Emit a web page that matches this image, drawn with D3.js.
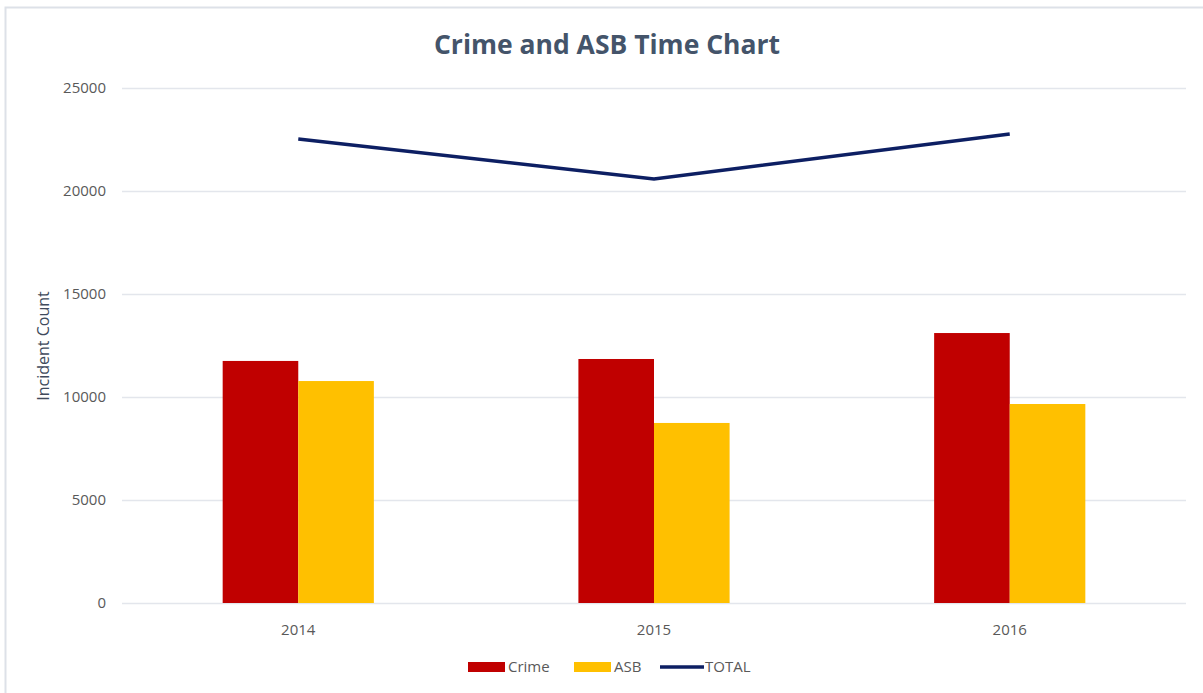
<!DOCTYPE html>
<html>
<head>
<meta charset="utf-8">
<script src="https://cdn.jsdelivr.net/npm/d3@7"></script>
<style>
  body { margin: 0; background: #fff; }
  text { font-family: "Open Sans", Lato, sans-serif; }
</style>
</head>
<body>
<div id="chart"></div>
<script>
var years = ["2014", "2015", "2016"]
var crime = [11750, 11845, 13105]
var asb = [10775, 8740, 9660]
var total = [22525, 20585, 22765]
var yTicks = [0, 5000, 10000, 15000, 20000, 25000]

var svg = d3.select("#chart")
.append("svg")
.attr("width", 1203)
.attr("height", 693)

// outer frame
svg.append("rect")
.attr("x", 5.5).attr("y", 7.5)
.attr("width", 1210).attr("height", 700)
.attr("fill", "none")
.attr("stroke", "#dde1e8")
.attr("stroke-width", 2)

var plotLeft = 122, plotRight = 1186, plotTop = 88, plotBottom = 603

var yScale = d3.scaleLinear()
.domain([0, 25000])
.range([plotBottom, plotTop])

var xScale = d3.scaleBand()
.domain(years)
.range([plotLeft, plotRight])
.paddingInner(0.575)
.paddingOuter(0.283)

// grid + y labels
var yAxis = d3.axisLeft(yScale)
.tickValues(yTicks)
.tickSize(-(plotRight - plotLeft))
.tickPadding(16)
.tickFormat(d3.format("d"))

var gy = svg.append("g").attr("transform", "translate(" + plotLeft + ",0)").call(yAxis)
gy.select(".domain").remove()
gy.selectAll("line").attr("stroke", "#e3e6ec").attr("stroke-width", 1.5)
gy.selectAll("text").attr("fill", "#595959").attr("font-size", 15)

// x labels
var xAxis = d3.axisBottom(xScale).tickSize(0).tickPadding(21)
var gx = svg.append("g").attr("transform", "translate(0," + plotBottom + ")").call(xAxis)
gx.select(".domain").remove()
gx.selectAll("text").attr("fill", "#595959").attr("font-size", 15)

var bw = xScale.bandwidth() / 2

svg.append("g").selectAll("rect")
.data(crime)
.enter().append("rect")
.attr("x", function(d, i) { return xScale(years[i]) })
.attr("y", function(d) { return yScale(d) })
.attr("width", bw)
.attr("height", function(d) { return plotBottom - yScale(d) })
.attr("fill", "#c00000")

svg.append("g").selectAll("rect")
.data(asb)
.enter().append("rect")
.attr("x", function(d, i) { return xScale(years[i]) + bw })
.attr("y", function(d) { return yScale(d) })
.attr("width", bw)
.attr("height", function(d) { return plotBottom - yScale(d) })
.attr("fill", "#ffc000")

var totalLine = d3.line()
.x(function(d, i) { return xScale(years[i]) + xScale.bandwidth() / 2 })
.y(function(d) { return yScale(d) })

svg.append("path")
.datum(total)
.attr("d", totalLine)
.attr("fill", "none")
.attr("stroke", "#0d1f63")
.attr("stroke-width", 3.5)

// title
svg.append("text")
.text("Crime and ASB Time Chart")
.attr("x", 607).attr("y", 54)
.attr("text-anchor", "middle")
.attr("font-size", 26.5)
.attr("font-weight", "bold")
.attr("fill", "#44546a")

// y axis title
svg.append("text")
.text("Incident Count")
.attr("transform", "translate(49,346) rotate(-90)")
.attr("text-anchor", "middle")
.attr("font-size", 16)
.attr("fill", "#404a5c")

// legend
var legend = [
  {name: "Crime", color: "#c00000", type: "bar", x: 468},
  {name: "ASB", color: "#ffc000", type: "bar", x: 574},
  {name: "TOTAL", color: "#0d1f63", type: "line", x: 660}
]
var lg = svg.append("g").selectAll("g").data(legend).enter().append("g")
lg.filter(function(d) { return d.type == "bar" }).append("rect")
.attr("x", function(d) { return d.x }).attr("y", 662)
.attr("width", 37).attr("height", 10)
.attr("fill", function(d) { return d.color })
lg.filter(function(d) { return d.type == "line" }).append("line")
.attr("x1", function(d) { return d.x }).attr("x2", function(d) { return d.x + 44 })
.attr("y1", 667).attr("y2", 667)
.attr("stroke", function(d) { return d.color })
.attr("stroke-width", 3.5)
lg.append("text")
.text(function(d) { return d.name })
.attr("x", function(d) { return d.x + (d.type == "line" ? 45 : 40) })
.attr("y", 672)
.attr("font-size", 15)
.attr("fill", "#595959")
</script>
</body>
</html>
